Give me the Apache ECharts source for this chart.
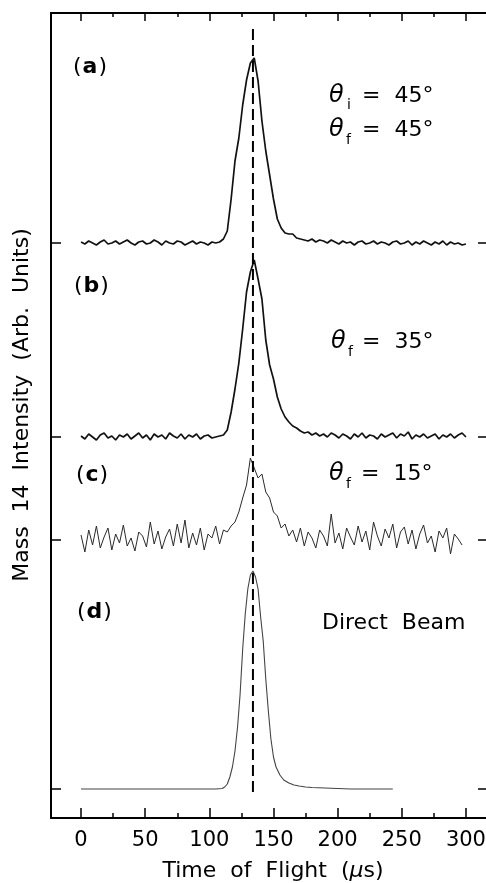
<!DOCTYPE html>
<html>
<head>
<meta charset="utf-8">
<script src="https://cdn.jsdelivr.net/npm/echarts@6/dist/echarts.min.js"></script>
<style>
html,body{margin:0;padding:0;background:#fff;}
#chart{width:486px;height:883px;}
</style>
</head>
<body>
<div id="chart"></div>
<script>
// Time of flight sampling (µs) for panels a, b, c
const timeUs = [
  0,3,6,9,12,15,18,21,24,27,
  30,33,36,39,42,45,48,51,54,57,
  60,63,66,69,72,75,78,81,84,87,
  90,93,96,99,102,105,108,111,114,117,
  120,123,126,129,132,135,138,141,144,147,
  150,153,156,159,162,165,168,171,174,177,
  180,183,186,189,192,195,198,201,204,207,
  210,213,216,219,222,225,228,231,234,237,
  240,243,246,249,252,255,258,261,264,267,
  270,273,276,279,282,285,288,291,294,297,
  300
];
// (a) θi = 45°, θf = 45°  (intensity above its baseline, arb. units)
const intensityA = [
  1,-1,2,0,-2,1,3,-1,0,2,
  -1,1,3,0,-2,1,2,-1,0,3,
  1,-2,2,0,-1,2,1,-2,0,2,
  -1,1,0,-2,1,0,1,4,12,44,
  82,105,138,163,180,185,162,122,92,68,
  44,24,15,10,9,9,5,4,3,2,
  4,1,3,2,0,3,1,-1,2,0,
  1,-2,1,2,-1,0,2,-1,1,0,
  -2,1,2,-1,0,2,-2,1,-1,2,
  0,-2,1,-1,2,-2,1,-1,0,-2,
  -1
];
// (b) θf = 35°
const intensityB = [
  1,-2,3,0,-3,2,4,-1,1,-3,
  2,0,3,-2,1,4,-1,2,-3,3,
  0,2,-2,4,1,-1,3,-2,2,0,
  3,-2,1,2,-1,0,1,2,7,25,
  48,74,108,145,165,177,158,138,97,72,
  58,40,28,20,15,11,9,6,4,5,
  2,4,1,3,0,4,2,-1,3,1,
  -2,3,0,4,-1,2,1,-2,3,0,
  2,4,-1,3,1,5,-2,2,0,3,
  -1,1,3,-2,2,0,3,-1,2,4,
  0
];
// (c) θf = 15°
const intensityC = [
  5,-12,10,-5,14,-8,3,12,-10,6,
  -3,15,-6,2,-11,8,4,-7,18,-4,
  9,-9,3,11,-6,16,-3,20,-8,7,
  -5,12,-10,6,2,14,-4,10,8,14,
  18,28,42,55,82,72,62,66,48,42,
  28,24,12,16,4,10,-2,12,-6,8,
  2,-8,10,4,-6,26,-3,7,-9,12,
  3,-5,14,-2,9,-10,18,4,-6,11,
  2,16,-8,8,13,-4,10,-9,6,15,
  -3,4,-12,9,2,12,-14,6,1,-5,
  null
];
// (d) Direct beam
const timeD = [0,20,40,60,80,100,105,110,112,114,116,118,120,122,124,126,128,130,132,134,136,138,140,142,144,146,148,150,152,155,158,162,166,170,175,180,190,200,210,220,230,243];
const intensityD = [0,0,0,0,0,0,0,0.5,2,5,12,22,38,62,95,140,175,200,214,218,212,200,172,148,110,78,50,32,22,14,9,6,4,3,2,1.5,1,0.5,0,0,0,0];

// Vertical offsets of the stacked traces (a, b, c, d)
const panelBaselines = [575, 381, 278, 29];
const panelNames = ['a', 'b', 'c', 'd'];
// Dashed reference line at the direct-beam peak
const refTime = 134;
const refSpan = [26, 793];

const xTicksMajor = [0, 50, 100, 150, 200, 250, 300];
const xTicksMinor = [25, 75, 125, 175, 225, 275];
const yRange = [0, 805];
const xRange = [-23.4, 317.2];

const FONT = 'DejaVu Sans';

function pairs(ts, vs, base) {
  return ts.map((t, i) => [t, vs[i] == null ? null : vs[i] + base]);
}

const chart = echarts.init(document.getElementById('chart'), null, {renderer: 'canvas'});

function xAx(pos, ticks, len, showLine, showLabels) {
  return {
    type: 'value', position: pos, min: xRange[0], max: xRange[1],
    axisLine: {show: showLine, onZero: false, lineStyle: {color: '#000', width: 2}},
    axisTick: {show: true, inside: true, length: len, customValues: ticks, lineStyle: {color: '#000', width: 1.5}},
    axisLabel: showLabels ? {show: true, customValues: ticks, margin: 12, color: '#000', fontFamily: FONT, fontSize: 21} : {show: false},
    splitLine: {show: false}
  };
}
function yAx(pos, showLine) {
  return {
    type: 'value', position: pos, min: yRange[0], max: yRange[1],
    axisLine: {show: showLine, onZero: false, lineStyle: {color: '#000', width: 2}},
    axisTick: {show: true, inside: true, length: 10, customValues: panelBaselines, lineStyle: {color: '#000', width: 1.5}},
    axisLabel: {show: false},
    splitLine: {show: false}
  };
}

const seriesColors = ['#111', '#111', '#2a2a2a', '#444'];
const seriesWidths = [1.7, 1.7, 1, 1.1];
const seriesData = [
  pairs(timeUs, intensityA, panelBaselines[0]),
  pairs(timeUs, intensityB, panelBaselines[1]),
  pairs(timeUs, intensityC, panelBaselines[2]),
  pairs(timeD, intensityD, panelBaselines[3])
];

const series = seriesData.map((d, i) => ({
  name: panelNames[i], type: 'line', data: d, showSymbol: false, symbol: 'none',
  xAxisIndex: 0, yAxisIndex: 0, connectNulls: false,
  lineStyle: {color: seriesColors[i], width: seriesWidths[i]}, silent: true
}));
series.push({
  name: 'ref', type: 'line', data: [[refTime, refSpan[0]], [refTime, refSpan[1]]],
  showSymbol: false, symbol: 'none', xAxisIndex: 0, yAxisIndex: 0,
  lineStyle: {color: '#000', width: 2, type: [11, 5]}, silent: true
});

function txt(text, x, y, size, opts) {
  opts = opts || {};
  return {
    type: 'text', x: x, y: y, rotation: opts.rotation || 0, silent: true,
    style: {
      text: text, fill: '#000',
      font: (opts.style || '') + ' ' + (opts.weight || '') + ' ' + size + 'px "' + FONT + '"',
      textAlign: opts.align || 'left', textVerticalAlign: 'middle',
      rich: opts.rich
    }
  };
}
const panelRich = {
  p: {fontFamily: FONT, fontSize: 22, fill: '#000', padding: [0, 1, 0, 1]},
  l: {fontFamily: FONT, fontSize: 22, fontWeight: 'bold', fill: '#000'}
};
const titleRich = {
  n: {fontFamily: FONT, fontSize: 22, fill: '#000'},
  m: {fontFamily: FONT, fontSize: 22, fontStyle: 'italic', fill: '#000'}
};

const graphics = [
  txt('{p|(}{l|a}{p|)}', 72, 67, 22, {rich: panelRich}),
  txt('{p|(}{l|b}{p|)}', 73, 286, 22, {rich: panelRich}),
  txt('{p|(}{l|c}{p|)}', 75, 475, 22, {rich: panelRich}),
  txt('{p|(}{l|d}{p|)}', 76, 612, 22, {rich: panelRich}),
  // θi = 45°
  txt('θ', 329, 96, 24, {style: 'italic'}),
  txt('i', 347, 105, 14),
  txt('=  45°', 362, 96, 22),
  // θf = 45°
  txt('θ', 329, 130, 24, {style: 'italic'}),
  txt('f', 346, 140, 14),
  txt('=  45°', 362, 130, 22),
  // θf = 35°
  txt('θ', 331, 342, 24, {style: 'italic'}),
  txt('f', 348, 352, 14),
  txt('=  35°', 362, 342, 22),
  // θf = 15°
  txt('θ', 329, 474, 24, {style: 'italic'}),
  txt('f', 346, 484, 14),
  txt('=  15°', 361, 474, 22),
  txt('Direct  Beam', 322, 623, 22),
  // axis titles
  txt('{n|Time  of  Flight  (}{m|μ}{n|s)}', 273, 871, 22, {align: 'center', rich: titleRich}),
  txt('Mass  14  Intensity  (Arb.  Units)', 22, 405, 22, {align: 'center', rotation: Math.PI / 2})
];

chart.setOption({
  animation: false,
  backgroundColor: '#fff',
  grid: {left: 51, top: 13, width: 437, height: 805, containLabel: false, outerBoundsMode: 'none'},
  xAxis: [
    xAx('bottom', xTicksMajor, 10, true, true),
    xAx('bottom', xTicksMinor, 5, false, false),
    xAx('top', xTicksMajor, 8, true, false),
    xAx('top', xTicksMinor, 4, false, false)
  ],
  yAxis: [yAx('left', true), yAx('right', false)],
  series: series,
  graphic: graphics
});
</script>
</body>
</html>
